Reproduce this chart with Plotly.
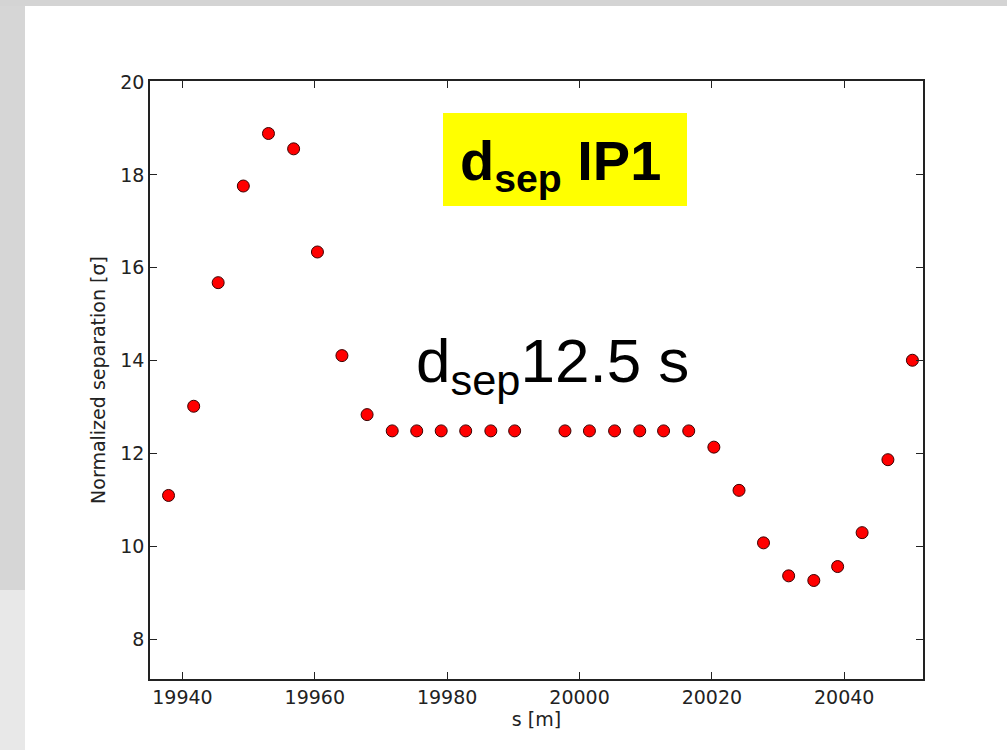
import plotly.graph_objects as go

# ---- data ----
s_m = [19937.9, 19941.7, 19945.4, 19949.2, 19953.0, 19956.8, 19960.4, 19964.1,
       19967.9, 19971.7, 19975.4, 19979.1, 19982.8, 19986.6, 19990.2,
       19997.8, 20001.5, 20005.3, 20009.1, 20012.7, 20016.5, 20020.3,
       20024.1, 20027.8, 20031.6, 20035.4, 20039.0, 20042.7, 20046.6, 20050.3]
sep_sigma = [11.10, 13.02, 15.68, 17.76, 18.89, 18.56, 16.34, 14.11,
             12.84, 12.49, 12.49, 12.49, 12.49, 12.49, 12.49,
             12.49, 12.49, 12.49, 12.49, 12.49, 12.49, 12.14,
             11.21, 10.08, 9.37, 9.27, 9.57, 10.30, 11.87, 14.01]
x_ticks = [19940, 19960, 19980, 20000, 20020, 20040]
y_ticks = [8, 10, 12, 14, 16, 18, 20]

W, H = 1007, 750
L, R, T, B = 150, 84, 81, 71
PW, PH = W - L - R, H - T - B


def px(x):
    return (x - L) / PW


def py(y):
    return (H - B - y) / PH


fig = go.Figure()
fig.add_trace(go.Scatter(
    x=s_m, y=sep_sigma, mode="markers",
    marker=dict(color="#ff0000", size=12, line=dict(color="#3a0000", width=1)),
    showlegend=False, cliponaxis=False))

axis_common = dict(showgrid=False, zeroline=False, showline=True, linecolor="#222222",
                   linewidth=1.5, mirror="ticks", ticks="inside", ticklen=7,
                   tickwidth=1, tickcolor="#222222",
                   tickfont=dict(family="DejaVu Sans", size=19, color="#222222"))

fig.update_xaxes(range=[19935.1, 20051.9], tickvals=x_ticks,
                 ticktext=[str(v) for v in x_ticks],
                 title=dict(text="s [m]", font=dict(family="DejaVu Sans", size=19, color="#222222"),
                            standoff=6),
                 **axis_common)
fig.update_yaxes(range=[7.15, 20.02], tickvals=y_ticks,
                 ticktext=[str(v) for v in y_ticks],
                 title=dict(text="Normalized separation [σ]",
                            font=dict(family="DejaVu Sans", size=19, color="#222222"),
                            standoff=10),
                 **axis_common)

shapes = [
    # slide background strips
    dict(type="rect", xref="paper", yref="paper", x0=px(0), x1=px(25), y0=py(590), y1=py(0),
         fillcolor="#d6d6d6", line=dict(width=0), layer="below"),
    dict(type="rect", xref="paper", yref="paper", x0=px(0), x1=px(25), y0=py(750), y1=py(590),
         fillcolor="#e8e8e8", line=dict(width=0), layer="below"),
    dict(type="rect", xref="paper", yref="paper", x0=px(0), x1=px(1007), y0=py(6), y1=py(0),
         fillcolor="#d4d4d4", line=dict(width=0), layer="below"),
    # yellow label box
    dict(type="rect", xref="paper", yref="paper", x0=px(443), x1=px(687), y0=py(206), y1=py(113),
         fillcolor="#ffff00", line=dict(width=0), layer="above"),
]

annotations = [
    dict(text="<b>d<sub>sep</sub> IP1</b>", xref="paper", yref="paper",
         x=px(560), y=py(164), xanchor="center", yanchor="middle", showarrow=False,
         font=dict(family="Liberation Sans", size=56, color="#000000")),
    dict(text="d<sub>sep</sub>12.5 s", xref="paper", yref="paper",
         x=px(552), y=py(365), xanchor="center", yanchor="middle", showarrow=False,
         font=dict(family="Liberation Sans", size=62, color="#000000")),
]

fig.update_layout(width=W, height=H, margin=dict(l=L, r=R, t=T, b=B),
                  paper_bgcolor="#ffffff", plot_bgcolor="#ffffff",
                  shapes=shapes, annotations=annotations)

fig.write_html("out.html")
